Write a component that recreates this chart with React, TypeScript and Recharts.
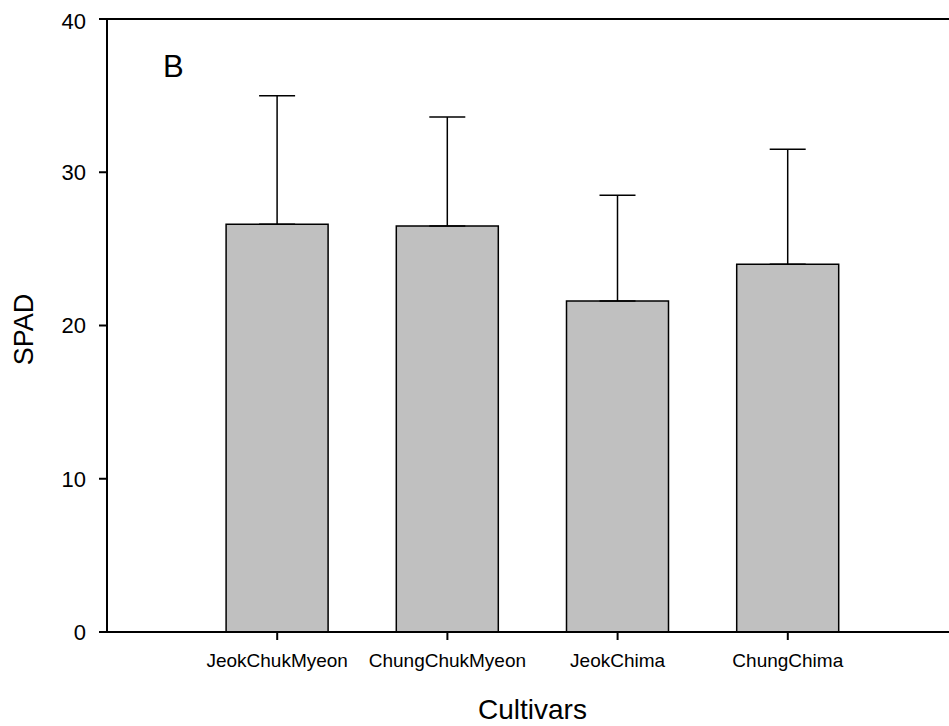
import {
  BarChart,
  Bar,
  XAxis,
  YAxis,
  ErrorBar,
  ReferenceLine,
  Customized,
} from 'recharts';

const FONT = 'Arial, "Liberation Sans", sans-serif';

const cultivars = ['JeokChukMyeon', 'ChungChukMyeon', 'JeokChima', 'ChungChima'];
const spadMean = [26.6, 26.5, 21.6, 24.0];
const spadSd = [8.4, 7.1, 6.9, 7.5];
const yTicks = [0, 10, 20, 30, 40];

// bars sit on a numeric axis at 1..4 so there is an empty slot on each side
const data = cultivars.map((name, i) => ({
  pos: i + 1,
  name,
  spad: spadMean[i],
  err: [0, spadSd[i]],
}));

const PanelLetter = () => (
  <text x={155} y={69} fontFamily={FONT} fontSize={31} fill="#000">
    B
  </text>
);

export default function App() {
  return (
    <div
      style={{
        position: 'absolute',
        left: 8,
        top: 8,
        width: 941,
        height: 718,
        overflow: 'hidden',
      }}
    >
      <BarChart
        width={960}
        height={718}
        data={data}
        margin={{ top: 11, right: 10, left: 0, bottom: 0 }}
      >
        <XAxis
          dataKey="pos"
          type="number"
          domain={[0, 5]}
          ticks={[1, 2, 3, 4]}
          tickFormatter={(v: number) => cultivars[v - 1] ?? ''}
          height={94}
          stroke="#000"
          strokeWidth={2}
          tickSize={8}
          tickMargin={14}
          tick={{ fill: '#000', fontSize: 19, fontFamily: FONT }}
          label={{
            content: ({ viewBox }: any) => (
              <text
                x={viewBox.x + viewBox.width / 2}
                y={711}
                textAnchor="middle"
                fontFamily={FONT}
                fontSize={28}
                fill="#000"
              >
                Cultivars
              </text>
            ),
          }}
        />
        <YAxis
          domain={[0, 40]}
          ticks={yTicks}
          width={99}
          stroke="#000"
          strokeWidth={2}
          tickSize={8}
          tickMargin={13}
          tick={{ fill: '#000', fontSize: 22, fontFamily: FONT }}
          label={{
            content: ({ viewBox }: any) => {
              const cy = viewBox.y + viewBox.height / 2 + 4;
              return (
                <text
                  x={16}
                  y={cy}
                  transform={`rotate(-90 16 ${cy})`}
                  textAnchor="middle"
                  dominantBaseline="central"
                  fontFamily={FONT}
                  fontSize={27}
                  fill="#000"
                >
                  SPAD
                </text>
              );
            },
          }}
        />
        <ReferenceLine y={40} stroke="#000" strokeWidth={2} />
        <ReferenceLine x={5} stroke="#000" strokeWidth={2} />
        <Bar
          dataKey="spad"
          barSize={102}
          fill="#c0c0c0"
          stroke="#000"
          strokeWidth={1.5}
          isAnimationActive={false}
        >
          <ErrorBar
            dataKey="err"
            direction="y"
            width={18}
            stroke="#000"
            strokeWidth={1.5}
            isAnimationActive={false}
          />
        </Bar>
        <Customized component={PanelLetter} />
      </BarChart>
    </div>
  );
}
